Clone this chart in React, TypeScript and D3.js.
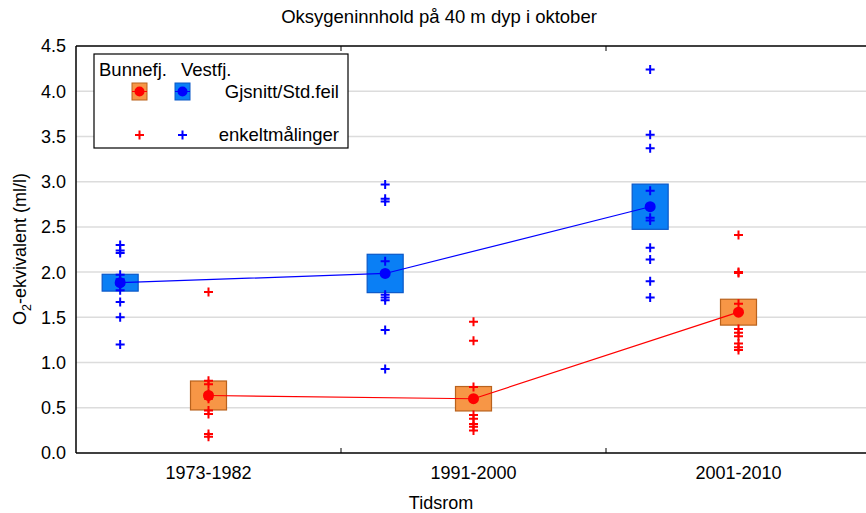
import React from "react";
import * as d3 from "d3";

const categories = ["1973-1982", "1991-2000", "2001-2010"];
const yTicks = [0, 0.5, 1.0, 1.5, 2.0, 2.5, 3.0, 3.5, 4.0, 4.5];

// Gjsnitt (mean) and Std.feil (standard error)
const vestMean = [1.883, 1.985, 2.723];
const vestSE = [0.093, 0.212, 0.25];
const bunnMean = [0.636, 0.6, 1.557];
const bunnSE = [0.16, 0.135, 0.143];

// enkeltmålinger
const vestPoints = [
  [2.3, 2.24, 2.21, 1.97, 1.92, 1.86, 1.8, 1.67, 1.5, 1.2],
  [2.97, 2.81, 2.78, 2.12, 1.75, 1.72, 1.69, 1.36, 0.93],
  [4.24, 3.52, 3.37, 2.9, 2.6, 2.57, 2.27, 2.14, 1.9, 1.72],
];
const bunnPoints = [
  [1.78, 0.8, 0.76, 0.66, 0.62, 0.6, 0.47, 0.43, 0.21, 0.18],
  [1.45, 1.24, 0.73, 0.42, 0.38, 0.32, 0.29, 0.25],
  [2.41, 2.0, 1.99, 1.65, 1.37, 1.33, 1.29, 1.21, 1.17, 1.14],
];

const W = 866;
const H = 513;
const left = 76;
const top = 46;
const bottom = 453;
const bandRight = 871;
const FONT = "'Liberation Sans', Arial, sans-serif";

const BLUE = "#0000ff";
const RED = "#ff0000";
const BLUE_FILL = "#0a7ff5";
const BLUE_STROKE = "#0b58c8";
const ORANGE_FILL = "#f79646";
const ORANGE_STROKE = "#b9621d";

function Cross({ x, y, color }: { x: number; y: number; color: string }) {
  const s = 4.5;
  return (
    <path
      d={`M${x - s},${y}H${x + s}M${x},${y - s}V${y + s}`}
      stroke={color}
      strokeWidth={2}
      fill="none"
    />
  );
}

export default function App() {
  const x = d3.scaleBand<string>().domain(categories).range([left, bandRight]).padding(0);
  const y = d3.scaleLinear().domain([0, 4.5]).range([bottom, top]);
  const bw = x.bandwidth();
  const offset = bw / 3; // Vestfj. sits one third of a band left of the centre
  const boxW = 36;

  const redX = (c: string) => (x(c) as number) + bw / 2;
  const blueX = (c: string) => redX(c) - offset;

  const line = d3
    .line<[number, number]>()
    .x((d) => d[0])
    .y((d) => d[1]);

  const blueLine = line(categories.map((c, i) => [blueX(c), y(vestMean[i])]));
  const redLine = line(categories.map((c, i) => [redX(c), y(bunnMean[i])]));

  const boundaries = categories.slice(1).map((c) => x(c) as number);

  return (
    <svg
      width={W}
      height={H}
      style={{ position: "absolute", left: 0, top: 0, background: "#fff" }}
      fontFamily={FONT}
    >
      <rect x={0} y={0} width={W} height={H} fill="#fff" />
      {/* title */}
      <text x={439} y={23} textAnchor="middle" fontSize={18.5} fill="#000">
        Oksygeninnhold på 40 m dyp i oktober
      </text>

      {/* gridlines */}
      {yTicks.slice(1, -1).map((t) => (
        <line key={t} x1={left} x2={W} y1={y(t)} y2={y(t)} stroke="#dcdcdc" strokeWidth={1.5} />
      ))}

      {/* frame */}
      <line x1={left} x2={W} y1={top} y2={top} stroke="#000" strokeWidth={1.5} />
      <line x1={left} x2={W} y1={bottom} y2={bottom} stroke="#000" strokeWidth={1.5} />
      <line x1={left} x2={left} y1={top} y2={bottom} stroke="#000" strokeWidth={1.5} />
      {boundaries.map((b) => (
        <g key={b}>
          <line x1={b} x2={b} y1={bottom} y2={bottom - 5} stroke="#000" strokeWidth={1} />
          <line x1={b} x2={b} y1={top} y2={top + 5} stroke="#000" strokeWidth={1} />
        </g>
      ))}

      {/* y tick labels */}
      {yTicks.map((t) => (
        <text key={t} x={66} y={y(t)} dy="0.36em" textAnchor="end" fontSize={18} fill="#000">
          {t.toFixed(1)}
        </text>
      ))}

      {/* x tick labels */}
      {categories.map((c) => (
        <text key={c} x={redX(c)} y={479} textAnchor="middle" fontSize={18} fill="#000">
          {c}
        </text>
      ))}

      {/* axis titles */}
      <text x={441} y={509} textAnchor="middle" fontSize={18} fill="#000">
        Tidsrom
      </text>
      <text transform="translate(26,249) rotate(-90)" textAnchor="middle" fontSize={18} fill="#000">
        O<tspan fontSize={12.5} dy={5}>2</tspan>
        <tspan dy={-5}>-ekvivalent (ml/l)</tspan>
      </text>

      {/* SE boxes */}
      {categories.map((c, i) => (
        <g key={"box" + c}>
          <rect
            x={blueX(c) - boxW / 2}
            y={y(vestMean[i] + vestSE[i])}
            width={boxW}
            height={y(vestMean[i] - vestSE[i]) - y(vestMean[i] + vestSE[i])}
            fill={BLUE_FILL}
            stroke={BLUE_STROKE}
            strokeWidth={1.2}
          />
          <rect
            x={redX(c) - boxW / 2}
            y={y(bunnMean[i] + bunnSE[i])}
            width={boxW}
            height={y(bunnMean[i] - bunnSE[i]) - y(bunnMean[i] + bunnSE[i])}
            fill={ORANGE_FILL}
            stroke={ORANGE_STROKE}
            strokeWidth={1.2}
          />
        </g>
      ))}

      {/* mean lines */}
      <path d={blueLine || ""} stroke={BLUE} strokeWidth={1.2} fill="none" />
      <path d={redLine || ""} stroke={RED} strokeWidth={1.2} fill="none" />

      {/* individual measurements */}
      {categories.map((c, i) => (
        <g key={"pts" + c}>
          {vestPoints[i].map((v, j) => (
            <Cross key={"v" + j} x={blueX(c)} y={y(v)} color={BLUE} />
          ))}
          {bunnPoints[i].map((v, j) => (
            <Cross key={"b" + j} x={redX(c)} y={y(v)} color={RED} />
          ))}
        </g>
      ))}

      {/* mean dots */}
      {categories.map((c, i) => (
        <g key={"dot" + c}>
          <circle cx={blueX(c)} cy={y(vestMean[i])} r={5.5} fill={BLUE} />
          <circle cx={redX(c)} cy={y(bunnMean[i])} r={5.5} fill={RED} />
        </g>
      ))}

      {/* legend */}
      <g>
        <rect x={94} y={54} width={254} height={94} fill="#fff" stroke="#000" strokeWidth={1.2} />
        <text x={99} y={76} fontSize={18.5} fill="#000">Bunnefj.</text>
        <text x={181} y={76} fontSize={18.5} fill="#000">Vestfj.</text>
        <rect x={132} y={83} width={15} height={17} fill={ORANGE_FILL} stroke={ORANGE_STROKE} strokeWidth={1} />
        <line x1={132} x2={147} y1={91.5} y2={91.5} stroke={RED} strokeWidth={1} />
        <circle cx={139.5} cy={91.5} r={5} fill={RED} />
        <rect x={175} y={83} width={15} height={17} fill={BLUE_FILL} stroke={BLUE_STROKE} strokeWidth={1} />
        <line x1={175} x2={190} y1={91.5} y2={91.5} stroke={BLUE} strokeWidth={1} />
        <circle cx={182.5} cy={91.5} r={5} fill={BLUE} />
        <text x={339} y={98} textAnchor="end" fontSize={18.5} fill="#000">Gjsnitt/Std.feil</text>
        <Cross x={139.5} y={135} color={RED} />
        <Cross x={182.5} y={135} color={BLUE} />
        <text x={339} y={141} textAnchor="end" fontSize={18.5} fill="#000">enkeltmålinger</text>
      </g>
    </svg>
  );
}
